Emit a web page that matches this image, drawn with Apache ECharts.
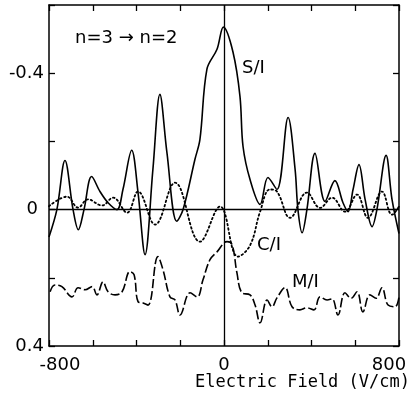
<!DOCTYPE html>
<html><head><meta charset="utf-8">
<script src="https://cdn.jsdelivr.net/npm/echarts@6/dist/echarts.min.js"></script>
<style>html,body{margin:0;padding:0;background:#fff}#c{width:412px;height:398px}</style>
</head><body><div id="c"></div>
<script>
// Electric field (V/cm) and signal values (axis inverted: negative up)
const siField = [-800,-764,-727,-690,-666,-640,-605,-567,-530,-489,-462,-422,-393,-361,-325,-293,-261,-216,-187,-133,-110,-78,-32,-3,41,73,87,119,165,201,242,293,325,338,357,379,416,462,507,544,567,590,617,645,677,699,741,768,800];
const siValue = [0.08,0,-0.144,0,0.059,0,-0.097,-0.053,-0.02,0,-0.059,-0.174,-0.05,0.132,-0.118,-0.338,-0.168,0.034,0,-0.147,-0.206,-0.412,-0.47,-0.535,-0.462,-0.332,-0.185,-0.088,-0.015,-0.094,-0.059,-0.27,-0.118,0,0.068,0,-0.165,-0.024,-0.085,-0.02,0.006,-0.059,-0.132,-0.03,0.05,0,-0.159,-0.03,0.07];

const ciField = [-800,-718,-667,-622,-558,-507,-443,-393,-315,-224,-110,-18,64,119,165,210,242,302,379,439,494,553,608,658,722,768,800];
const ciValue = [-0.01,-0.038,-0.006,-0.03,-0.012,-0.035,0.009,-0.053,0.044,-0.079,0.094,-0.009,0.138,0.105,0.006,-0.059,-0.053,0.024,-0.05,-0.005,-0.035,0.006,-0.044,0.024,-0.053,0.015,-0.009];

const miField = [-795,-773,-741,-695,-667,-635,-603,-581,-553,-530,-498,-466,-430,-411,-393,-370,-347,-302,-279,-247,-224,-201,-155,-123,-96,-64,-32,14,37,59,82,119,142,165,197,219,242,279,311,347,379,411,439,471,494,521,553,581,608,635,667,695,722,750,782,800];
const miValue = [0.241,0.221,0.226,0.256,0.229,0.235,0.226,0.25,0.212,0.241,0.25,0.241,0.182,0.191,0.27,0.274,0.28,0.138,0.176,0.256,0.265,0.309,0.244,0.256,0.206,0.147,0.124,0.094,0.103,0.185,0.244,0.25,0.28,0.332,0.265,0.285,0.259,0.229,0.285,0.294,0.288,0.294,0.256,0.265,0.262,0.309,0.244,0.26,0.241,0.3,0.25,0.26,0.229,0.28,0.285,0.256];

const xLabels = [-800, 0, 800];
const yLabels = [-0.4, 0, 0.4];

const pair = (xs, ys) => xs.map((x, i) => [x, ys[i]]);
const FONT = 'DejaVu Sans';
const chart = echarts.init(document.getElementById('c'), null, {renderer: 'canvas'});
const axisLine = {onZero: false, lineStyle: {color: '#000', width: 1.5}};
const tick = {inside: true, length: 6, lineStyle: {color: '#000', width: 1.3}};
const option = {
  animation: false,
  backgroundColor: '#fff',
  grid: {left: 49, top: 5, width: 350, height: 341},
  xAxis: [
    {type: 'value', min: -800, max: 800, interval: 200, position: 'bottom',
     axisLine: axisLine, axisTick: tick, splitLine: {show: false},
     axisLabel: {margin: 10, color: '#000', fontFamily: FONT, fontSize: 18,
       formatter: v => {
         if (!xLabels.includes(v)) return '';
         if (v === xLabels[0]) return '{l|' + v + '}';
         if (v === xLabels[2]) return '{r|' + v + '}';
         return String(v);
       },
       rich: {l: {padding: [0, 0, 0, 22], fontFamily: FONT, fontSize: 18, color: '#000'},
              r: {padding: [0, 20, 0, 0], fontFamily: FONT, fontSize: 18, color: '#000'}}}},
    {type: 'value', min: -800, max: 800, interval: 200, position: 'top',
     axisLine: axisLine, axisTick: tick, splitLine: {show: false}, axisLabel: {show: false}}
  ],
  yAxis: [
    {type: 'value', inverse: true, min: -0.6, max: 0.4, interval: 0.2, position: 'left',
     axisLine: axisLine, axisTick: tick, splitLine: {show: false},
     axisLabel: {margin: 5, color: '#000', fontFamily: FONT, fontSize: 18,
       formatter: v => {
         const r = Math.round(v * 10) / 10;
         return yLabels.includes(r) ? (r === 0 ? '{z|0}' : String(r)) : '';
       },
       rich: {z: {padding: [0, 6, 0, 0], fontFamily: FONT, fontSize: 18, color: '#000'}}}},
    {type: 'value', inverse: true, min: -0.6, max: 0.4, interval: 0.2, position: 'right',
     axisLine: axisLine, axisTick: tick, splitLine: {show: false}, axisLabel: {show: false}}
  ],
  series: [
    {name: 'S/I', type: 'line', data: pair(siField, siValue), smooth: 0.35, showSymbol: false,
     lineStyle: {color: '#000', width: 1.6},
     markLine: {silent: true, symbol: 'none', label: {show: false},
       lineStyle: {color: '#000', width: 1.3, type: 'solid'},
       emphasis: {disabled: true},
       data: [{xAxis: 0}, {yAxis: 0}]}},
    {name: 'C/I', type: 'line', data: pair(ciField, ciValue), smooth: 0.4, showSymbol: false,
     lineStyle: {color: '#000', width: 1.8, type: [1.6, 2.8], cap: 'round'}},
    {name: 'M/I', type: 'line', data: pair(miField, miValue), smooth: 0.4, showSymbol: false,
     lineStyle: {color: '#000', width: 1.6, type: [9, 3]}}
  ],
  graphic: [
    {type: 'text', left: 75, top: 29, style: {text: 'n=3 → n=2', font: '18px "DejaVu Sans"', fill: '#000'}},
    {type: 'text', left: 242, top: 59, style: {text: 'S/I', font: '18px "DejaVu Sans"', fill: '#000'}},
    {type: 'text', left: 257, top: 236, style: {text: 'C/I', font: '18px "DejaVu Sans"', fill: '#000'}},
    {type: 'text', left: 292, top: 273, style: {text: 'M/I', font: '18px "DejaVu Sans"', fill: '#000'}},
    {type: 'text', right: 2, top: 374, style: {text: 'Electric Field (V/cm)', font: '17px "DejaVu Sans Mono"', fill: '#000'}}
  ]
};
chart.setOption(option);
</script></body></html>
